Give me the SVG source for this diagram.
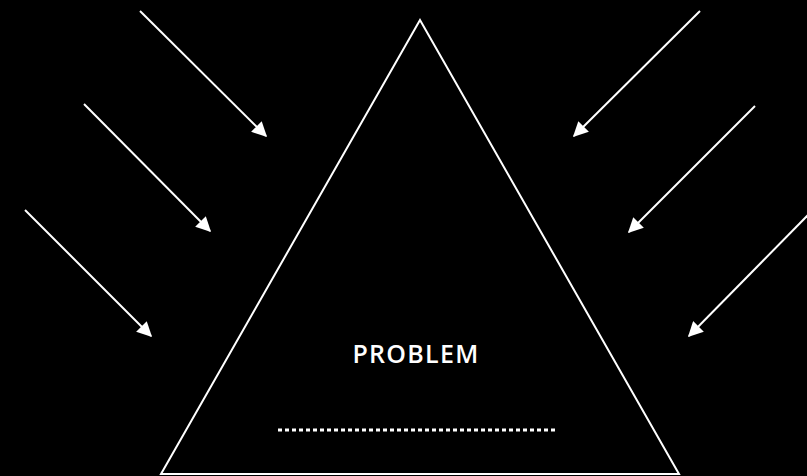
<svg xmlns="http://www.w3.org/2000/svg" width="807" height="476" viewBox="0 0 807 476">
<defs>
<marker id="ah" viewBox="0 0 10 10" refX="9" refY="5" markerWidth="7.5" markerHeight="7.5" markerUnits="strokeWidth" orient="auto">
<path d="M0,0 L10,5 L0,10 z" fill="#fff"/>
</marker>
<style>
.arr{stroke:#fff;stroke-width:2;fill:none;marker-end:url(#ah)}
.lbl{font-family:"Open Sans","Liberation Sans",sans-serif;font-weight:600;font-size:25px;letter-spacing:1.3px;fill:#fff}
</style>
</defs>
<rect width="807" height="476" fill="#000"/>
<g id="triangle">
<polygon points="420,20 161,474 679,474" fill="none" stroke="#fff" stroke-width="2"/>
<text class="lbl" x="416" y="363" text-anchor="middle">PROBLEM</text>
<line x1="278" y1="430" x2="556" y2="430" stroke="#fff" stroke-width="3" stroke-dasharray="4,3"/>
</g>
<g id="connectors">
<line class="arr" x1="140" y1="11" x2="266" y2="136"/>
<line class="arr" x1="84" y1="104" x2="210" y2="231"/>
<line class="arr" x1="25" y1="210" x2="151" y2="336"/>
<line class="arr" x1="700" y1="11" x2="574" y2="136"/>
<line class="arr" x1="755" y1="106" x2="629" y2="232"/>
<line class="arr" x1="808" y1="215" x2="689" y2="336"/>
</g>
</svg>
